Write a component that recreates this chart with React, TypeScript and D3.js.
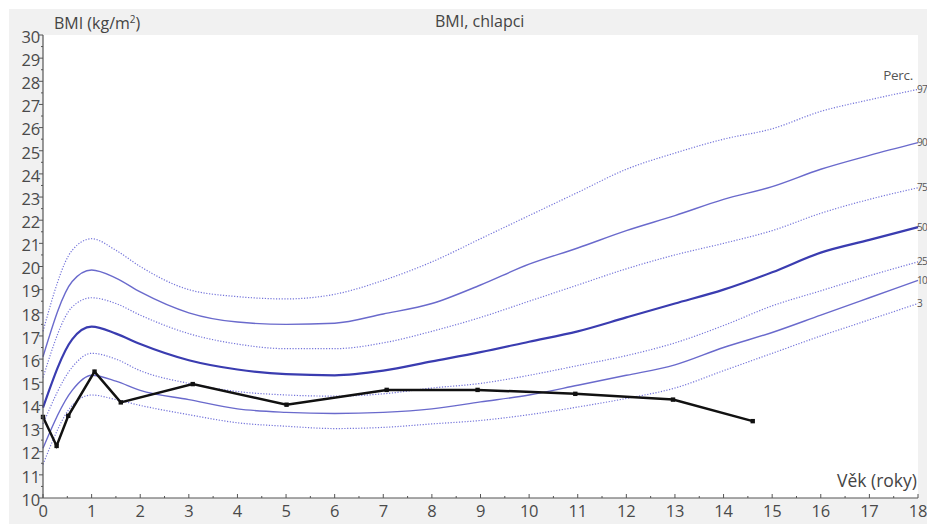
import React, { useEffect, useRef } from "react";
import * as d3 from "d3";

const ages = [0, 0.6, 1, 1.5, 2, 3, 4, 5, 6, 7, 8, 9, 10, 11, 12, 13, 14, 15, 16, 17, 18];
const p97 = [17.2, 20.7, 21.2, 20.7, 20.0, 19.0, 18.7, 18.6, 18.8, 19.4, 20.2, 21.2, 22.2, 23.2, 24.2, 24.9, 25.5, 25.95, 26.7, 27.2, 27.65];
const p90 = [16.1, 19.35, 19.85, 19.5, 18.9, 18.0, 17.6, 17.5, 17.55, 17.95, 18.4, 19.2, 20.1, 20.8, 21.55, 22.2, 22.9, 23.45, 24.2, 24.8, 25.35];
const p75 = [15.2, 18.25, 18.65, 18.4, 17.9, 17.1, 16.65, 16.45, 16.45, 16.7, 17.2, 17.8, 18.5, 19.2, 19.9, 20.5, 21.0, 21.55, 22.3, 22.9, 23.4];
const p50 = [13.9, 16.85, 17.4, 17.1, 16.65, 15.95, 15.55, 15.35, 15.3, 15.5, 15.9, 16.3, 16.75, 17.2, 17.8, 18.4, 19.0, 19.75, 20.6, 21.15, 21.7];
const p25 = [13.2, 15.65, 16.25, 16.0, 15.5, 14.95, 14.6, 14.45, 14.4, 14.5, 14.75, 14.95, 15.3, 15.72, 16.15, 16.7, 17.45, 18.3, 18.95, 19.6, 20.2];
const p10 = [12.15, 14.65, 15.3, 15.05, 14.65, 14.25, 13.85, 13.7, 13.65, 13.7, 13.85, 14.15, 14.45, 14.87, 15.3, 15.75, 16.5, 17.15, 17.9, 18.65, 19.4];
const p3 = [11.45, 14.0, 14.45, 14.25, 14.0, 13.6, 13.25, 13.1, 13.0, 13.05, 13.2, 13.35, 13.6, 13.93, 14.3, 14.75, 15.5, 16.25, 17.0, 17.7, 18.4];

const percentileLabels = ["97", "90", "75", "50", "25", "10", "3"];
const percentileSeries = [p97, p90, p75, p50, p25, p10, p3];
const percentileStyle = ["dot", "thin", "dot", "thick", "dot", "thin", "dot"];

const childAges = [0, 0.28, 0.52, 1.06, 1.6, 3.08, 5.01, 7.07, 8.94, 10.95, 12.96, 14.6];
const childBmi = [13.5, 12.25, 13.55, 15.46, 14.13, 14.92, 14.03, 14.67, 14.67, 14.5, 14.25, 13.32];

const xTicks = d3.range(0, 19);
const yTicks = d3.range(10, 31);

const W = 927;
const H = 524;
const FONT = "'Open Sans', 'Noto Sans', sans-serif";

export default function App() {
  const ref = useRef<SVGSVGElement>(null);

  useEffect(() => {
    document.body.style.margin = "0";
    const svg = d3.select(ref.current);
    svg.selectAll("*").remove();

    const x = d3.scaleLinear().domain([0, 18]).range([43, 918]);
    const y = d3.scaleLinear().domain([10, 30]).range([498, 35]);

    svg.append("rect").attr("x", 0).attr("y", 0).attr("width", W).attr("height", H).attr("fill", "#ffffff");
    svg.append("rect").attr("x", 9).attr("y", 9).attr("width", W - 9).attr("height", H - 9).attr("fill", "#f1f1f1");
    svg.append("rect").attr("x", x(0)).attr("y", y(30)).attr("width", x(18) - x(0)).attr("height", y(10) - y(30)).attr("fill", "#ffffff");

    const line = d3
      .line<number>()
      .x((_, i) => x(ages[i]))
      .y((d) => y(d))
      .curve(d3.curveMonotoneX);

    percentileSeries.forEach((s, k) => {
      const st = percentileStyle[k];
      const p = svg
        .append("path")
        .attr("d", line(s) as string)
        .attr("fill", "none");
      if (st === "dot") {
        p.attr("stroke", "#7474da").attr("stroke-width", 1.2).attr("stroke-dasharray", "1.2,1.6");
      } else if (st === "thin") {
        p.attr("stroke", "#6a6acc").attr("stroke-width", 1.4);
      } else {
        p.attr("stroke", "#3a3cb0").attr("stroke-width", 2.2);
      }
      const last = s[s.length - 1];
      svg
        .append("text")
        .attr("x", x(18) - 1)
        .attr("y", y(last))
        .attr("dy", "0.35em")
        .attr("font-family", FONT)
        .attr("font-size", 10)
        .attr("letter-spacing", -0.8)
        .attr("fill", "#555")
        .text(percentileLabels[k]);
    });

    // child line
    const cl = d3
      .line<number>()
      .x((_, i) => x(childAges[i]))
      .y((d) => y(d));
    svg
      .append("path")
      .attr("d", cl(childBmi) as string)
      .attr("fill", "none")
      .attr("stroke", "#111")
      .attr("stroke-width", 2.5)
      .attr("stroke-linejoin", "miter");
    svg
      .selectAll("rect.pt")
      .data(childBmi)
      .enter()
      .append("rect")
      .attr("class", "pt")
      .attr("x", (_, i) => x(childAges[i]) - 2.2)
      .attr("y", (d) => y(d) - 2.2)
      .attr("width", 4.4)
      .attr("height", 4.4)
      .attr("fill", "#111");

    // axes
    const axisColor = "#555";
    svg.append("line").attr("x1", x(0)).attr("x2", x(0)).attr("y1", y(30)).attr("y2", y(10)).attr("stroke", axisColor).attr("stroke-width", 1.2);
    svg.append("line").attr("x1", x(0)).attr("x2", x(18)).attr("y1", y(10)).attr("y2", y(10)).attr("stroke", axisColor).attr("stroke-width", 1.2);

    yTicks.forEach((t) => {
      svg.append("line").attr("x1", x(0) - 4).attr("x2", x(0)).attr("y1", y(t)).attr("y2", y(t)).attr("stroke", axisColor);
      if (t < 30)
        svg.append("line").attr("x1", x(0) - 2).attr("x2", x(0)).attr("y1", y(t + 0.5)).attr("y2", y(t + 0.5)).attr("stroke", axisColor);
      svg
        .append("text")
        .attr("x", x(0) - 3)
        .attr("y", y(t) + 2)
        .attr("dy", "0.35em")
        .attr("text-anchor", "end")
        .attr("font-family", FONT)
        .attr("font-size", 16.5)
        .attr("letter-spacing", -0.2)
        .attr("fill", "#4a4a4a")
        .text(String(t));
    });

    xTicks.forEach((t) => {
      svg.append("line").attr("x1", x(t)).attr("x2", x(t)).attr("y1", y(10) - 4).attr("y2", y(10)).attr("stroke", axisColor);
      if (t < 18)
        svg.append("line").attr("x1", x(t + 0.5)).attr("x2", x(t + 0.5)).attr("y1", y(10) - 2).attr("y2", y(10)).attr("stroke", axisColor);
      svg
        .append("text")
        .attr("x", x(t))
        .attr("y", 517)
        .attr("text-anchor", "middle")
        .attr("font-family", FONT)
        .attr("font-size", 16.5)
        .attr("letter-spacing", -0.2)
        .attr("fill", "#4a4a4a")
        .text(String(t));
    });

    const yTitle = svg
      .append("text")
      .attr("x", 54)
      .attr("y", 29)
      .attr("font-family", FONT)
      .attr("font-size", 16)
      .attr("fill", "#444");
    yTitle.append("tspan").text("BMI (kg/m");
    yTitle.append("tspan").attr("font-size", 10).attr("dy", -6).text("2");
    yTitle.append("tspan").attr("dy", 6).text(")");

    svg
      .append("text")
      .attr("x", 435)
      .attr("y", 27)
      .attr("font-family", FONT)
      .attr("font-size", 16)
      .attr("fill", "#444")
      .text("BMI, chlapci");

    svg
      .append("text")
      .attr("x", 913)
      .attr("y", 80)
      .attr("text-anchor", "end")
      .attr("font-family", FONT)
      .attr("font-size", 13.5)
      .attr("letter-spacing", -0.3)
      .attr("fill", "#555")
      .text("Perc.");

    svg
      .append("text")
      .attr("x", 917)
      .attr("y", 487)
      .attr("text-anchor", "end")
      .attr("font-family", FONT)
      .attr("font-size", 17.5)
      .attr("fill", "#444")
      .text("Věk (roky)");
  }, []);

  return (
    <svg
      ref={ref}
      width={W}
      height={H}
      style={{ position: "absolute", left: 0, top: 0, display: "block" }}
    />
  );
}
